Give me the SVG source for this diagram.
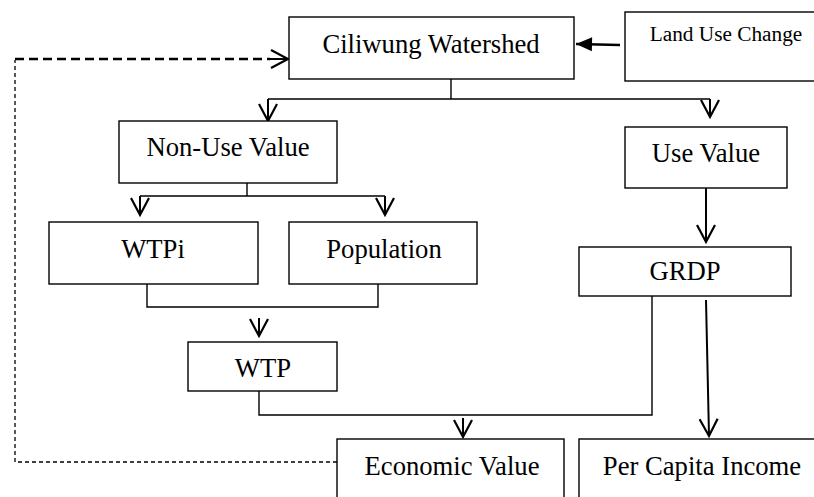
<svg xmlns="http://www.w3.org/2000/svg" width="814" height="497" viewBox="0 0 814 497">
<style>
.box{fill:#fff;stroke:#000;stroke-width:1.4}
.t{font-family:"Liberation Serif","Times New Roman",serif;font-size:26.67px;fill:#000;text-anchor:middle}
.ts{font-size:21.3px}
.ln{fill:none;stroke:#000;stroke-width:1.4}
.ar{fill:none;stroke:#000;stroke-width:2;marker-end:url(#v)}
.dt{fill:none;stroke:#000;stroke-width:1.3;stroke-dasharray:4 3}
.dk{fill:none;stroke:#000;stroke-width:2.4;stroke-dasharray:9 5}
</style>
<defs>
<marker id="v" markerUnits="userSpaceOnUse" viewBox="-20 -12 24 24" markerWidth="24" markerHeight="24" refX="0" refY="0" orient="auto">
<path d="M-17,-9 L0,0 L-17,9" fill="none" stroke="#000" stroke-width="2.2"/>
</marker>
<marker id="f" markerUnits="userSpaceOnUse" viewBox="-20 -12 24 24" markerWidth="24" markerHeight="24" refX="0" refY="0" orient="auto">
<path d="M-16,-7 L0,0 L-16,7 Z" fill="#000"/>
</marker>
</defs>
<g id="connectors">
<path class="ln" d="M451,79 V99 M268,99 H710"/>
<path class="ar" d="M268,99 V121"/>
<path class="ar" d="M710,99 V117"/>
<path d="M620,45 L576,44" fill="none" stroke="#000" stroke-width="2.4" marker-end="url(#f)"/>
<path class="ln" d="M247,183 V196 M140,196 H385"/>
<path class="ar" d="M140,196 V215"/>
<path class="ar" d="M385,196 V215"/>
<path class="ln" d="M147,284 V307 H378 V282"/>
<path class="ar" d="M259,318 V336"/>
<path class="ar" d="M706,182 V242"/>
<path class="ln" d="M259,391 V415 H652 V296"/>
<path class="ar" d="M463,418 V437"/>
<path class="ar" d="M706,300 L709,436"/>
<path class="dt" d="M337,462 H15 V60"/>
<path class="dk" d="M15,59 H270"/>
<path class="ar" d="M270,59 H288"/>
</g>
<g id="ciliwung"><rect class="box" x="289" y="17" width="285" height="62"/><text class="t" x="431" y="53">Ciliwung Watershed</text></g>
<g id="landuse"><rect class="box" x="625" y="12" width="195" height="69"/><text class="t ts" x="726" y="41">Land Use Change</text></g>
<g id="nonuse"><rect class="box" x="119" y="121" width="218" height="62"/><text class="t" x="228" y="156">Non-Use Value</text></g>
<g id="usevalue"><rect class="box" x="625" y="127" width="162" height="61"/><text class="t" x="706" y="162">Use Value</text></g>
<g id="wtpi"><rect class="box" x="49" y="222" width="209" height="62"/><text class="t" x="153" y="258">WTPi</text></g>
<g id="population"><rect class="box" x="289" y="222" width="188" height="62"/><text class="t" x="384" y="258">Population</text></g>
<g id="grdp"><rect class="box" x="579" y="247" width="212" height="49"/><text class="t" x="685" y="280">GRDP</text></g>
<g id="wtp"><rect class="box" x="188" y="342" width="149" height="49"/><text class="t" x="263" y="377">WTP</text></g>
<g id="economic"><rect class="box" x="337" y="439" width="227" height="70"/><text class="t" x="452" y="475">Economic Value</text></g>
<g id="percapita"><rect class="box" x="579" y="439" width="245" height="70"/><text class="t" x="702" y="475">Per Capita Income</text></g>
</svg>
